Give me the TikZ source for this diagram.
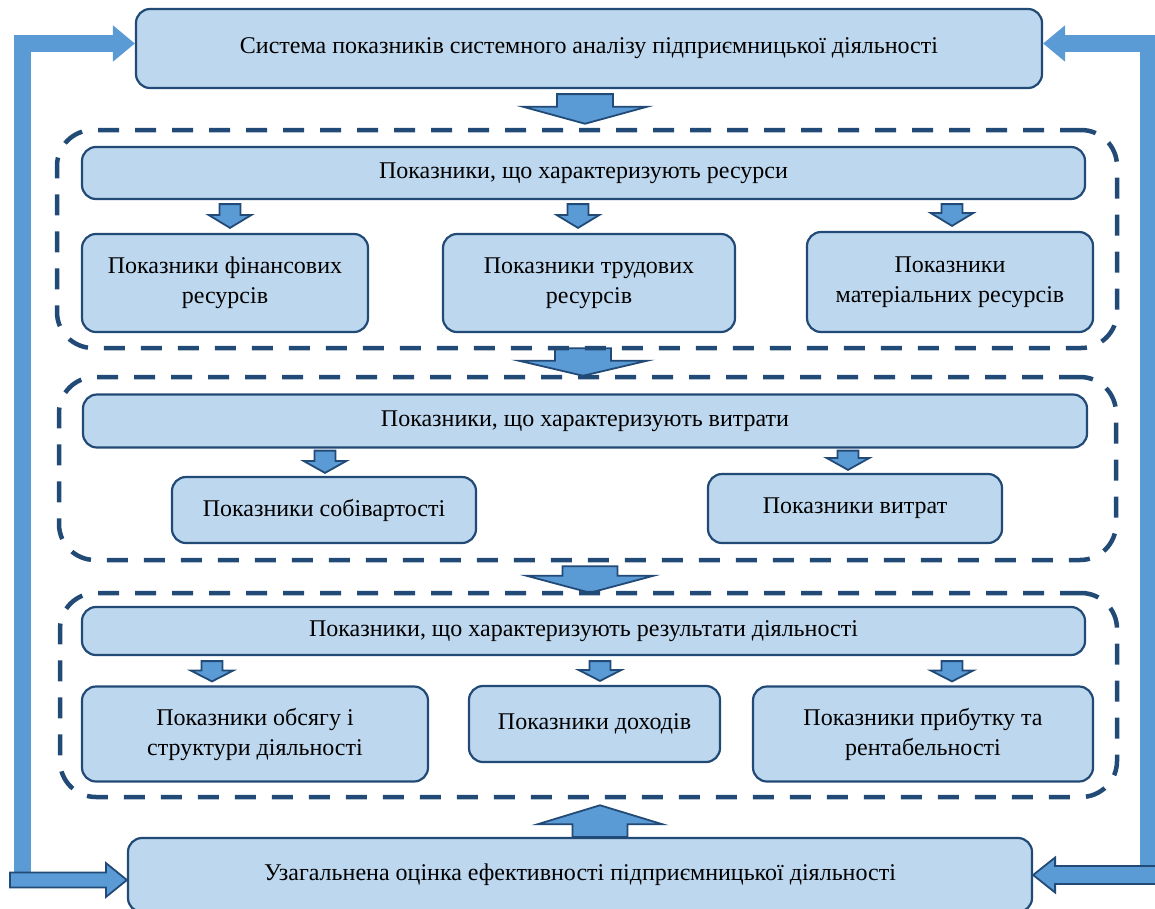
\documentclass[tikz,border=0pt]{standalone}
\usepackage{fontspec}
\setmainfont{Liberation Serif}
\usetikzlibrary{arrows.meta,calc,backgrounds}

\definecolor{boxfill}{RGB}{189,215,238}
\definecolor{boxline}{RGB}{34,74,118}
\definecolor{arrfill}{RGB}{91,155,213}

% vertical block arrow: x, from, to, half shaft, half head, head length
\newcommand{\vblock}[6]{%
  \draw[blockarr] let \p1=(#2), \p2=(#3) in
    ({#1pt-#4},\y1) -- ({#1pt+#4},\y1) -- ({#1pt+#4},{\y2+(#6)})
    -- ({#1pt+#5},{\y2+(#6)}) -- (#1pt,\y2) -- ({#1pt-#5},{\y2+(#6)})
    -- ({#1pt-#4},{\y2+(#6)}) -- cycle;}
% horizontal block arrow: from, to, half shaft, half head, head length
\newcommand{\hblock}[5]{%
  \draw[blockarr] let \p1=(#1), \p2=(#2) in
    (\x1,{\y2-#3}) -- ({\x2-(#5)},{\y2-#3}) -- ({\x2-(#5)},{\y2-#4}) -- (\x2,\y2)
    -- ({\x2-(#5)},{\y2+#4}) -- ({\x2-(#5)},{\y2+#3}) -- (\x1,{\y2+#3}) -- cycle;}

\begin{document}
\begin{tikzpicture}[x=1pt,y=-1pt,
  ind/.style={draw=boxline,fill=boxfill,line width=2.2pt,rounded corners=14pt,inner sep=0pt,align=center,font=\fontsize{24}{30}\selectfont},
  grp/.style={draw=boxline,line width=4.5pt,rounded corners=36pt,dash pattern=on 21pt off 16pt,inner sep=0pt},
  blockarr/.style={draw=boxline,fill=arrfill,line width=1.8pt,line join=miter},
  feedback/.style={draw=arrfill,line width=17pt,-{Triangle[length=22pt,width=35pt]}}]
\useasboundingbox (0,0) rectangle (1155,908);
\clip (0,0) rectangle (1155,908);

\node[ind,minimum width=906pt,minimum height=79pt] (sys) at (589,48.5) {Система показників системного аналізу підприємницької діяльності};

% resources
\node[grp,minimum width=1060pt,minimum height=218pt] (grp1) at (587,239) {};
\node[ind,minimum width=1003pt,minimum height=52pt] (res) at (583.5,173) {Показники, що характеризують ресурси};
\node[ind,minimum width=286pt,minimum height=98pt] (fin) at (225,283) {Показники фінансових\\ресурсів};
\node[ind,minimum width=292pt,minimum height=98pt] (trud) at (589,283) {Показники трудових\\ресурсів};
\node[ind,minimum width=286pt,minimum height=100pt] (mat) at (950,282) {Показники\\матеріальних ресурсів};

% costs
\node[grp,minimum width=1057pt,minimum height=183pt] (grp2) at (587.5,468.5) {};
\node[ind,minimum width=1004pt,minimum height=53pt] (cost) at (585,421) {Показники, що характеризують витрати};
\node[ind,minimum width=304pt,minimum height=66pt] (sob) at (324,510) {Показники собівартості};
\node[ind,minimum width=294pt,minimum height=69pt] (vyt) at (855,508.5) {Показники витрат};

% results
\node[grp,minimum width=1057pt,minimum height=204pt] (grp3) at (588.5,695) {};
\node[ind,minimum width=1003pt,minimum height=48pt] (resl) at (583.5,631) {Показники, що характеризують результати діяльності};
\node[ind,minimum width=346pt,minimum height=95pt] (obs) at (255,734) {Показники обсягу і\\структури діяльності};
\node[ind,minimum width=251pt,minimum height=76pt] (doh) at (594.5,724) {Показники доходів};
\node[ind,minimum width=340pt,minimum height=95pt] (prib) at (923,734) {Показники прибутку та\\рентабельності};

\node[ind,minimum width=904pt,minimum height=74pt] (bot) at (580,875) {Узагальнена оцінка ефективності підприємницької діяльності};

\begin{scope}[on background layer]
\vblock{585}{$(sys.south)+(0,5)$}{$(grp1.north)+(0,-4)$}{28pt}{62pt}{17pt}
\vblock{583}{$(grp1.south)+(0,-2)$}{$(grp2.north)+(0,1)$}{28pt}{64pt}{15pt}
\vblock{590}{$(grp2.south)+(0,4)$}{$(grp3.north)+(0,2)$}{27.5pt}{63.5pt}{17pt}
\vblock{600}{bot.north}{$(grp3.south)+(0,6)$}{27.5pt}{62.5pt}{-19pt}
\end{scope}

\foreach \ax/\kid in {230/fin,578/trud,952/mat}{
  \vblock{\ax}{$(res.south)+(0,4)$}{$(\kid.north)+(0,-5)$}{10.5pt}{21.5pt}{13pt}}
\foreach \ax/\kid in {325/sob,848/vyt}{
  \vblock{\ax}{$(cost.south)+(0,2)$}{$(\kid.north)+(0,-3)$}{10.5pt}{21.5pt}{12pt}}
\foreach \ax/\kid in {212/obs,600/doh,952/prib}{
  \vblock{\ax}{$(resl.south)+(0,5)$}{$(\kid.north)+(0,-4)$}{10.5pt}{21.5pt}{11pt}}

% feedback loops
\coordinate (lfoot) at (22,873);
\coordinate (rfoot) at (1148,866);
\draw[feedback] (lfoot) |- ([yshift=5pt]sys.west);
\draw[feedback] (rfoot) |- ([yshift=5pt]sys.east);

\coordinate (lstart) at (10,880);
\coordinate (rstart) at (1165,875);
\hblock{lstart}{$(bot.west)+(0,5)$}{7.5pt}{17pt}{21pt}
\hblock{rstart}{bot.east}{9pt}{17.5pt}{-22pt}
\end{tikzpicture}
\end{document}
